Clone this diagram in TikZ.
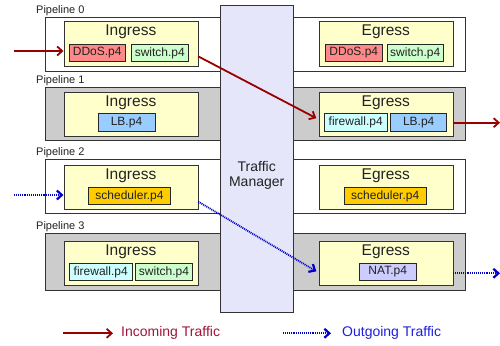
\documentclass[tikz,border=0pt]{standalone}
\usepackage{fontspec}
\setmainfont{Liberation Sans}
\usetikzlibrary{arrows.meta}
\definecolor{stagefill}{HTML}{FFFFCC}
\definecolor{tmfill}{HTML}{E6E6FA}
\definecolor{pgray}{HTML}{CCCCCC}
\definecolor{ddos}{HTML}{FF8888}
\definecolor{sw}{HTML}{CCFFCC}
\definecolor{lb}{HTML}{99CCFF}
\definecolor{fw}{HTML}{CCFFFF}
\definecolor{sched}{HTML}{FFCC00}
\definecolor{nat}{HTML}{CCCCFF}
\definecolor{inred}{HTML}{990000}
\definecolor{outblue}{HTML}{0000CC}
\definecolor{inredtext}{HTML}{A0143C}
\definecolor{outbluetext}{HTML}{1E1EDC}
\definecolor{txt}{HTML}{222222}
\begin{document}
\begin{tikzpicture}[x=1pt,y=-1pt,
  box/.style={draw=black!80, line width=0.7pt, inner sep=0pt, anchor=north west},
  pipe/.style={box},
  pipew/.style={pipe, fill=white},
  pipeg/.style={pipe, fill=pgray},
  stage/.style={box, fill=stagefill, minimum width=134pt},
  stagetitle/.style={anchor=center, inner sep=0pt, text=txt, font=\fontsize{15.5}{18}\selectfont},
  plabel/.style={anchor=south west, inner sep=0pt, text=txt, font=\fontsize{11}{12}\selectfont},
  prog/.style={draw=black!85, line width=0.7pt, inner sep=0pt, minimum height=17.5pt, text=txt,
    font=\fontsize{12}{13}\selectfont},
  inarrow/.style={draw=inred, line width=1.8pt, -{Straight Barb[length=5pt,width=9pt,line width=1.8pt]}},
  outarrow/.style={draw=outblue, line width=1.8pt, dash pattern=on 1pt off 0.9pt,
    -{Straight Barb[length=5pt,width=9pt,line width=2.2pt]}},
  legtext/.style={anchor=west, inner sep=0pt, font=\fontsize{14}{16}\selectfont}
]
\useasboundingbox (0,0) rectangle (500,345);

% pipelines
\node[pipew, minimum width=420pt, minimum height=54pt] (p0) at (45,17) {};
\node[pipeg, minimum width=420pt, minimum height=53pt] (p1) at (45,87) {};
\node[pipew, minimum width=420pt, minimum height=54pt] (p2) at (45,159) {};
\node[pipeg, minimum width=420pt, minimum height=57pt] (p3) at (45,233) {};
\node[plabel] (l0) at (36,15.5) {Pipeline 0};
\node[plabel] (l1) at (36,85.5) {Pipeline 1};
\node[plabel] (l2) at (36,157.5) {Pipeline 2};
\node[plabel] (l3) at (36,231.5) {Pipeline 3};

% stages
\node[stage, minimum height=45pt] (i0) at (63.5,21) {};
\node[stage, minimum height=45pt] (e0) at (318.5,21) {};
\node[stage, minimum height=44pt] (i1) at (63.5,91.5) {};
\node[stage, minimum height=44pt] (e1) at (318.5,91.5) {};
\node[stage, minimum height=43.5pt] (i2) at (63.5,165) {};
\node[stage, minimum height=43.5pt] (e2) at (318.5,165) {};
\node[stage, minimum height=44.5pt] (i3) at (63.5,240.5) {};
\node[stage, minimum height=44.5pt] (e3) at (318.5,240.5) {};
\foreach \s/\t in {i0/Ingress,e0/Egress,i1/Ingress,e1/Egress,i2/Ingress,e2/Egress,i3/Ingress,e3/Egress}
  \node[stagetitle] (\s t) at ([yshift=-11pt]\s.north) {\t};

% programs
\node[prog, fill=ddos, minimum width=56.5pt] (i0a) at (97.2,53) {DDoS.p4};
\node[prog, fill=sw, minimum width=57pt] (i0b) at (159.8,53) {switch.p4};
\node[prog, fill=ddos, minimum width=57pt] (e0a) at (353.8,53) {DDoS.p4};
\node[prog, fill=sw, minimum width=56.5pt] (e0b) at (415.2,53) {switch.p4};
\node[prog, fill=lb, minimum width=57pt] (i1a) at (126.5,122.5) {LB.p4};
\node[prog, fill=fw, minimum width=63.3pt] (e1a) at (355.7,122.5) {firewall.p4};
\node[prog, fill=lb, minimum width=56pt] (e1b) at (418.7,122.5) {LB.p4};
\node[prog, fill=sched, minimum width=82.4pt] (i2a) at (129.5,196) {scheduler.p4};
\node[prog, fill=sched, minimum width=81.7pt] (e2a) at (385.2,196) {scheduler.p4};
\node[prog, fill=fw, minimum width=63.3pt] (i3a) at (100.7,272) {firewall.p4};
\node[prog, fill=sw, minimum width=56.6pt] (i3b) at (164,272) {switch.p4};
\node[prog, fill=nat, minimum width=56.7pt] (e3a) at (387.7,272) {NAT.p4};

% traffic manager
\node[box, fill=tmfill, minimum width=73.3pt, minimum height=306.7pt] (tm) at (220,5) {};
\node[align=center, inner sep=0pt, text=txt, font=\fontsize{14}{15.5}\selectfont] (tmt) at (256.7,175.5) {Traffic\\Manager};

% traffic arrows
\coordinate (rin) at (14,51);
\draw[inarrow] (rin) -- (rin -| i0.west);
\draw[inarrow, shorten >=2.5pt] ([yshift=-12.5pt]i0.east) -- ([yshift=-5.5pt]e1.west);
\coordinate (rout) at (500,122.7);
\draw[inarrow] (rout -| e1.east) -- (rout);

\coordinate (bin) at (14,195);
\draw[outarrow] (bin) -- (bin -| i2.west);
\draw[outarrow, shorten >=2.5pt] ([yshift=-14.5pt]i2.east) -- ([yshift=-9.5pt]e3.west);
\coordinate (bout) at (500,273.3);
\draw[outarrow] (bout -| e3.east) -- (bout);

% legend
\coordinate (la) at (63,333.3);
\coordinate (lb) at (113,333.3);
\draw[inarrow] (la) -- (lb);
\node[legtext, text=inredtext] (lt1) at (121,333.3) {Incoming Traffic};
\coordinate (lc) at (283,333.3);
\coordinate (ld) at (331,333.3);
\draw[outarrow] (lc) -- (ld);
\node[legtext, text=outbluetext] (lt2) at (342,333.3) {Outgoing Traffic};
\end{tikzpicture}
\end{document}
